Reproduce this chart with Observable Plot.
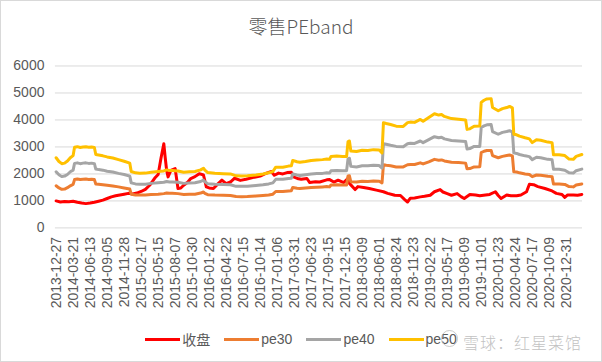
<!DOCTYPE html>
<html><head><meta charset="utf-8">
<script src="https://cdn.jsdelivr.net/npm/d3@7"></script>
<script src="https://cdn.jsdelivr.net/npm/@observablehq/plot@0.6"></script>
<style>
body{margin:0;background:#fff;}
#wrap{position:relative;width:602px;height:362px;box-sizing:border-box;border:1px solid #d9d9d9;background:#fff;font-family:"Liberation Sans",Arial,sans-serif;color:#595959;overflow:hidden}
#title{position:absolute;left:-1px;top:13px;width:602px;text-align:center;font-family:"Noto Sans CJK SC",sans-serif;font-weight:300;font-size:19px;color:#595959;line-height:24px}
#chart{position:absolute;left:-1px;top:49px}
#legend{position:absolute;left:-1px;top:329px;width:602px;height:18px;display:flex;justify-content:center;align-items:center;font-size:14px;color:#595959}
.item{display:flex;align-items:center;margin:0 7px}
.sw{width:35px;height:3px;margin-right:2px}
.item span.t{font-family:"Liberation Sans","Noto Sans CJK SC",sans-serif}
#wm{position:absolute;left:462px;top:329px;font-family:"Noto Sans CJK SC",sans-serif;font-weight:300;font-size:16px;color:#b8b8b8;opacity:0.85;letter-spacing:1px}
#wmlogo{position:absolute;left:440px;top:329px;width:15px;height:15px;border:1.5px solid #bdbdbd;border-radius:50%;opacity:0.8}
</style></head>
<body>
<div id="wrap">
  <div id="title">零售PEband</div>
  <div id="chart"></div>
  <div id="legend"></div>
  <div id="wmlogo"></div>
  <div id="wm">雪球：红星菜馆</div>
</div>
<script>
const seriesNames = ["收盘", "pe30", "pe40", "pe50"];
const seriesColors = ["#ff0000", "#ed7d31", "#a5a5a5", "#ffc000"];

const tickDates = ["2013-12-27","2014-03-21","2014-06-13","2014-09-05","2014-11-28","2015-02-17","2015-05-15","2015-08-07","2015-10-30","2016-01-22","2016-04-22","2016-07-15","2016-10-14","2017-01-06","2017-03-31","2017-06-23","2017-09-15","2017-12-15","2018-03-09","2018-06-01","2018-08-24","2018-11-23","2019-02-22","2019-05-17","2019-08-09","2019-11-01","2020-01-23","2020-04-24","2020-07-17","2020-10-09","2020-12-31"];

// band samples: week index (0 = 2013-12-27)
const bandWeek = [0,2,4,6,8,10,12,13,15,17,19,21,23,25,27,28,30,33,36,40,44,48,52,53,56,59,63,67,72,76,78,80,82,86,90,94,98,102,104,105,107,112,118,123,127,131,135,141,146,150,153,155,160,164,166,167,170,172,176,180,184,188,191,193,194,198,202,205,206,207,208,212,216,220,224,228,230,231,233,236,240,245,248,250,253,257,259,263,267,270,272,274,279,284,289,290,292,295,299,300,302,304,307,308,312,315,318,320,322,323,325,327,331,334,336,339,342,347,350,351,355,359,362,365,367,371];
const pe50 = [2600,2460,2380,2400,2480,2600,2680,2990,3010,2980,3000,3010,2990,3000,2980,2720,2700,2670,2630,2590,2530,2470,2400,2090,2040,2025,2030,2060,2090,2110,2150,2130,2130,2110,2060,2080,2090,2150,2210,2140,2050,2025,2010,2000,1930,1925,1930,1960,2000,2040,2090,2250,2250,2290,2300,2500,2450,2430,2460,2500,2520,2530,2550,2540,2650,2660,2650,2650,3200,3220,2850,2830,2880,2870,2900,2890,2780,3900,3870,3830,3770,3760,3900,3920,3910,4020,3950,4090,4230,4180,4200,4130,4050,4030,4000,3650,3670,3770,3780,4650,4730,4780,4790,4460,4340,4420,4460,4500,4450,3470,3450,3400,3340,3300,3160,3270,3250,3180,3160,2710,2710,2680,2550,2540,2650,2720];
const pe40 = [2080,1970,1900,1920,1980,2080,2140,2390,2410,2380,2400,2410,2390,2400,2380,2180,2160,2140,2100,2070,2020,1980,1920,1670,1630,1620,1620,1650,1670,1690,1720,1700,1700,1690,1650,1660,1670,1720,1770,1710,1640,1620,1610,1600,1540,1540,1540,1570,1600,1630,1670,1800,1800,1830,1840,2000,1960,1940,1970,2000,2020,2020,2040,2030,2120,2130,2120,2120,2560,2580,2280,2260,2300,2300,2320,2310,2220,3120,3100,3060,3020,3010,3120,3140,3130,3220,3160,3270,3380,3340,3360,3300,3240,3220,3200,2920,2940,3020,3020,3720,3780,3820,3830,3570,3470,3540,3570,3600,3560,2780,2760,2720,2670,2640,2530,2620,2600,2540,2530,2170,2170,2140,2040,2030,2120,2180];
const pe30 = [1560,1480,1430,1440,1490,1560,1610,1790,1810,1790,1800,1810,1790,1800,1790,1630,1620,1600,1580,1550,1520,1480,1440,1250,1220,1215,1220,1240,1250,1270,1290,1280,1280,1270,1240,1250,1250,1290,1330,1280,1230,1215,1210,1200,1160,1155,1160,1180,1200,1220,1250,1350,1350,1370,1380,1500,1470,1460,1480,1500,1510,1520,1530,1520,1590,1600,1590,1590,1920,1930,1710,1700,1730,1720,1740,1730,1670,2340,2320,2300,2260,2260,2340,2350,2350,2410,2370,2450,2540,2510,2520,2480,2430,2420,2400,2190,2200,2260,2270,2790,2840,2870,2870,2680,2600,2650,2680,2700,2670,2080,2070,2040,2000,1980,1900,1960,1950,1910,1900,1630,1630,1610,1530,1520,1590,1630];

// closing index samples
const closeWeek = [0,3,6,9,12,15,18,21,24,27,30,33,36,39,42,45,48,51,54,57,60,63,66,68,70,72,74,76,77,78,79,81,84,86,88,90,93,95,98,101,104,106,108,111,114,117,120,123,126,130,134,140,144,148,152,154,157,160,163,166,168,171,173,177,179,183,186,191,193,196,199,203,206,207,211,213,217,221,226,231,234,239,243,246,248,250,253,257,260,264,267,271,273,276,279,283,286,288,292,296,299,303,306,310,312,314,318,321,325,328,332,334,337,340,345,350,353,357,359,361,365,368,371];
const close = [1000,960,980,970,990,950,920,900,920,950,990,1030,1090,1150,1190,1220,1250,1280,1260,1290,1350,1430,1580,1720,1870,1980,2580,3120,2600,2130,1890,2130,2200,1460,1480,1580,1700,1830,1900,2010,1960,1520,1480,1460,1620,1770,1640,1700,1840,1760,1800,1880,1920,2020,2090,1950,2030,2000,2050,2060,1880,1820,1800,1830,1680,1710,1700,1780,1790,1700,1770,1680,1840,1650,1420,1530,1500,1460,1400,1340,1280,1210,1200,1050,960,1100,1110,1150,1170,1210,1340,1420,1330,1270,1210,1270,1150,1090,1240,1220,1190,1220,1240,1340,1200,1090,1220,1190,1190,1220,1340,1620,1600,1530,1460,1370,1280,1240,1130,1220,1220,1210,1240];

const rows = [];
closeWeek.forEach((w, i) => rows.push({s: "收盘", w, v: close[i]}));
bandWeek.forEach((w, i) => rows.push({s: "pe30", w, v: pe30[i]}));
bandWeek.forEach((w, i) => rows.push({s: "pe40", w, v: pe40[i]}));
bandWeek.forEach((w, i) => rows.push({s: "pe50", w, v: pe50[i]}));

const yTicks = d3.range(0, 6001, 1000);
const xTicks = d3.range(0, tickDates.length).map(k => k * 12);

const chart = Plot.plot({
  width: 602,
  height: 280,
  marginLeft: 55,
  marginRight: 19,
  marginTop: 15.5,
  marginBottom: 102.3,
  x: {domain: [-0.5, 371.5], label: null},
  y: {domain: [0, 6000], label: null},
  color: {domain: seriesNames, range: seriesColors},
  style: {fontFamily: '"Liberation Sans", Arial, sans-serif', fontSize: "14px", color: "#595959", background: "transparent", overflow: "visible"},
  marks: [
    Plot.gridY(yTicks, {stroke: "#d9d9d9", strokeOpacity: 1, strokeWidth: 1}),
    Plot.axisY(yTicks, {tickSize: 0, tickPadding: 11, fontSize: 14, fill: "#595959", label: null, tickFormat: (d) => String(d)}),
    Plot.axisX(xTicks, {tickSize: 0, tickPadding: 9, tickRotate: -90, fontSize: 14, fill: "#595959", label: null, tickFormat: (d) => tickDates[d / 12]}),
    Plot.line(rows, {x: "w", y: "v", z: "s", stroke: "s", strokeWidth: 3, strokeLinejoin: "round", strokeLinecap: "round"})
  ]
});
document.getElementById("chart").appendChild(chart);

const legend = document.getElementById("legend");
seriesNames.forEach((n, i) => {
  const it = document.createElement("div");
  it.className = "item";
  const sw = document.createElement("div");
  sw.className = "sw";
  sw.style.background = seriesColors[i];
  const t = document.createElement("span");
  t.className = "t";
  t.textContent = n;
  it.appendChild(sw);
  it.appendChild(t);
  legend.appendChild(it);
});
</script>
</body></html>
